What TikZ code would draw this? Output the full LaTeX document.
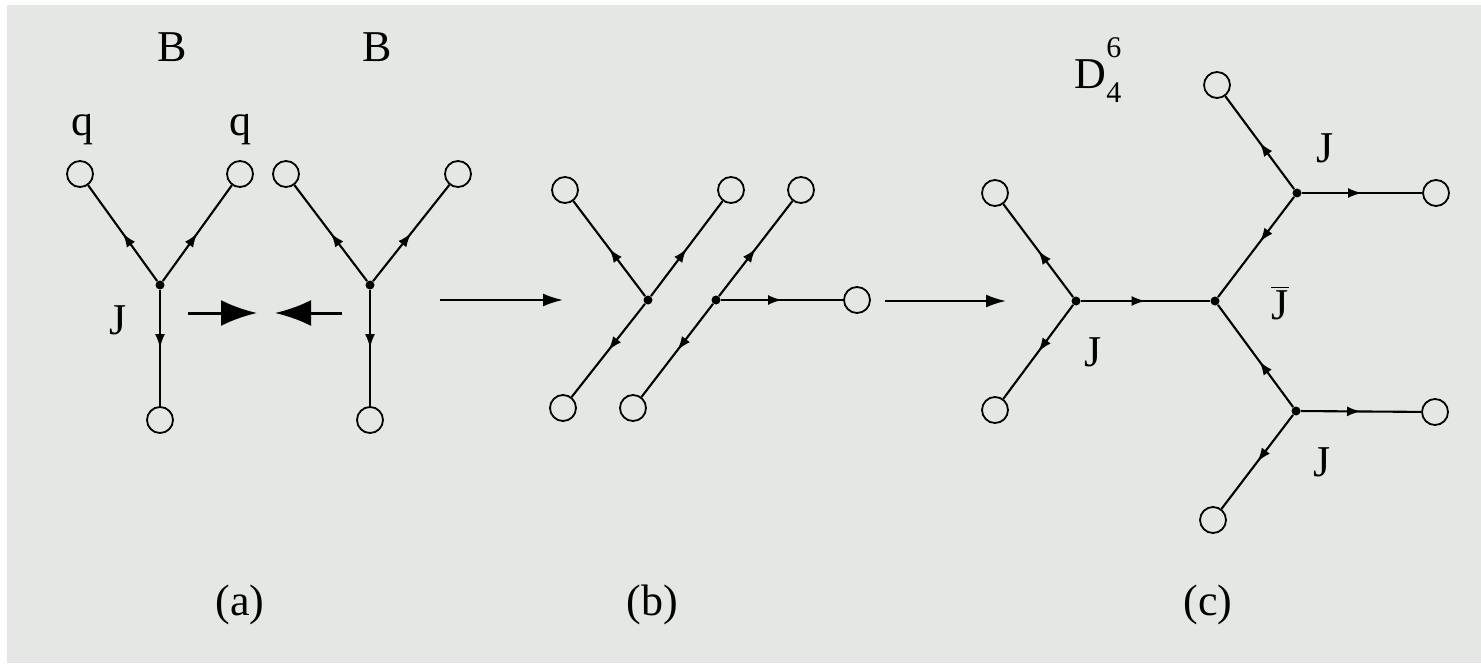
\documentclass[tikz,border=0pt]{standalone}
\usepackage{fontspec}
\setmainfont{Liberation Serif}
\usetikzlibrary{arrows.meta,decorations.markings}
\definecolor{paper}{HTML}{E5E7E4}
\begin{document}
\begin{tikzpicture}[x=0.5pt,y=-0.5pt,
  ring/.style={circle,draw,line width=0.9pt,minimum size=13pt,inner sep=0pt},
  dot/.style={circle,fill,minimum size=4.5pt,inner sep=0pt},
  lbl/.style={font=\fontsize{22}{26}\selectfont,inner sep=0pt},
  edge/.style={line width=1.05pt},
  fwd/.style={edge,postaction={decorate},decoration={markings,mark=at position #1 with {\arrow{Latex[length=7pt,width=5pt]}}}},
  fwd/.default=0.5,
  big/.style={line width=1.5pt,-{Latex[length=18pt,width=13pt]}},
  trans/.style={line width=1.05pt,-{Latex[length=10pt,width=6.5pt]}}]
\fill[white] (0,0) rectangle (1481,663);
\fill[paper] (7,5) rectangle (1481,663);
\useasboundingbox (0,0) rectangle (1481,663);

% ---------- panel (a) ----------
\node[lbl] (B1) at (172,47) {B};
\node[lbl] (B2) at (377,47) {B};
\node[lbl] (q1) at (82,130) {q};
\node[lbl] (q2) at (240,130) {q};
\node[lbl] (Ja) at (118,320) {J};

\node[ring] (a1) at (80,174) {};
\node[ring] (a2) at (240,174) {};
\node[ring] (a3) at (160,420) {};
\node[dot]  (av) at (160,285) {};
\draw[fwd] (av) -- (a1);
\draw[fwd] (av) -- (a2);
\draw[fwd] (av) -- (a3);

\node[ring] (b1) at (286,174) {};
\node[ring] (b2) at (458,174) {};
\node[ring] (b3) at (370,420) {};
\node[dot]  (bv) at (370,285) {};
\draw[fwd] (bv) -- (b1);
\draw[fwd] (bv) -- (b2);
\draw[fwd] (bv) -- (b3);

\coordinate (g1) at (188,313);
\coordinate (g2) at (257,313);
\coordinate (h1) at (342,313);
\coordinate (h2) at (275,313);
\draw[big] (g1) -- (g2);
\draw[big] (h1) -- (h2);

\node[lbl] (capa) at (240,605) {(a)};

% transition a -> b
\coordinate (t1) at (440,300);
\coordinate (t2) at (563,300);
\draw[trans] (t1) -- (t2);

% ---------- panel (b) ----------
\node[ring] (p1) at (565,190) {};
\node[ring] (p2) at (731,190) {};
\node[ring] (p3) at (563,408) {};
\node[dot]  (pv) at (648,300) {};
\draw[fwd] (pv) -- (p1);
\draw[fwd] (pv) -- (p2);
\draw[fwd] (pv) -- (p3);

\node[ring] (r1) at (801,190) {};
\node[ring] (r2) at (633,408) {};
\node[ring] (r3) at (857,300) {};
\node[dot]  (rv) at (716,300) {};
\draw[fwd] (rv) -- (r1);
\draw[fwd] (rv) -- (r2);
\draw[fwd] (rv) -- (r3);

\node[lbl] (capb) at (652,605) {(b)};

% transition b -> c
\coordinate (s1) at (885,301);
\coordinate (s2) at (1006,301);
\draw[trans] (s1) -- (s2);

% ---------- panel (c) ----------
\node[lbl] (D) at (1098,70) {D\rlap{\raisebox{0.72em}{\fontsize{15}{15}\selectfont 6}}\raisebox{-0.32em}{\fontsize{15}{15}\selectfont 4}};

\node[ring] (c1) at (995,193) {};
\node[ring] (c2) at (995,410) {};
\node[dot]  (cl) at (1076,301) {};
\node[dot]  (cr) at (1215,301) {};
\node[dot]  (cu) at (1297,193) {};
\node[dot]  (cd) at (1296,411) {};
\node[ring] (u1) at (1217,85) {};
\node[ring] (u2) at (1436,193) {};
\node[ring] (d1) at (1435,412) {};
\node[ring] (d2) at (1213,520) {};

\draw[fwd] (cl) -- (c1);
\draw[fwd] (cl) -- (c2);
\draw[fwd] (cl) -- (cr);
\draw[fwd=0.45] (cu) -- (cr);
\draw[fwd=0.45] (cd) -- (cr);
\draw[fwd] (cu) -- (u1);
\draw[fwd] (cu) -- (u2);
\draw[fwd] (cd) -- (d1);
\draw[fwd] (cd) -- (d2);

\node[lbl] (Jc1) at (1093,352) {J};
\node[lbl] (Jc2) at (1325,148) {J};
\node[lbl] (Jc3) at (1280,303) {$\overline{\mbox{J}}$};
\node[lbl] (Jc4) at (1322,462) {J};

\node[lbl] (capc) at (1208,605) {(c)};
\end{tikzpicture}
\end{document}
